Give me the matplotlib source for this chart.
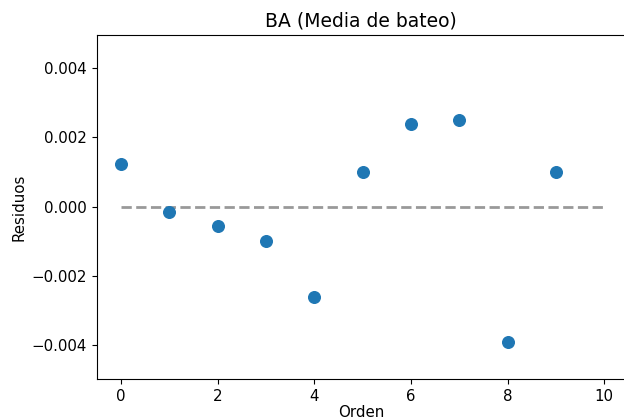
import numpy as np
import matplotlib.pyplot as plt

orden = [0, 1, 2, 3, 4, 5, 6, 7, 8, 9]
residuos = [0.00123, -0.00015, -0.00057, -0.00101, -0.00262,
            0.00099, 0.00240, 0.00250, -0.00392, 0.00099]

fig = plt.figure(figsize=(6.24, 4.19), dpi=100)
# axes run a little past the right edge of the canvas
ax = fig.add_axes([0.1554, 0.095, 0.864, 0.821])

ax.scatter(orden, residuos, s=70, color="#1f77b4", zorder=3)
ax.hlines(0, 0, 10, colors="#999999", linestyles="dashed", linewidth=2)

ax.set_xlim(-0.5, 10.66)
ax.set_ylim(-0.005, 0.00496)
ax.set_xticks([0, 2, 4, 6, 8, 10])
ax.set_yticks([-0.004, -0.002, 0.0, 0.002, 0.004])
ax.tick_params(labelsize=10.8)

ax.set_title("BA (Media de bateo)", fontsize=13.5, x=0.49)
ax.set_xlabel("Orden", fontsize=10.8, labelpad=1, x=0.49)
ax.set_ylabel("Residuos", fontsize=10.8)

fig.savefig("out.png", dpi=100)
